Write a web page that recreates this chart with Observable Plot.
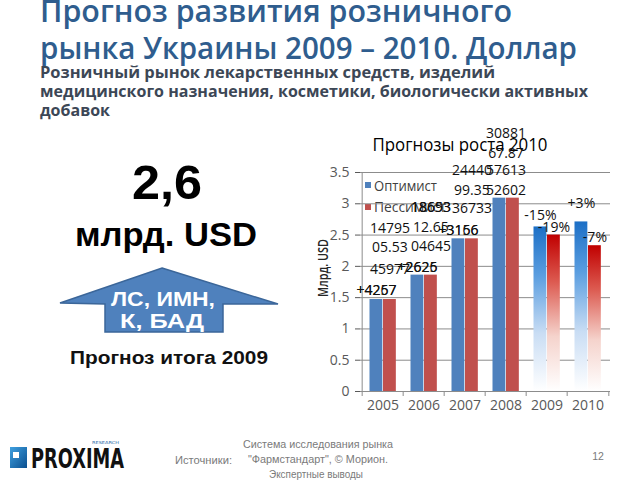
<!DOCTYPE html>
<html><head><meta charset="utf-8">
<script src="https://cdn.jsdelivr.net/npm/d3@7"></script>
<script src="https://cdn.jsdelivr.net/npm/@observablehq/plot@0.6"></script>
<style>
html,body{margin:0;padding:0;background:#fff;}
#slide{position:relative;width:640px;height:480px;overflow:hidden;background:#fff;}
#bg{position:absolute;left:0;top:0;}
#chart{position:absolute;left:300px;top:128px;}
</style></head><body>
<div id="slide">
<svg id="bg" width="640" height="480" xmlns="http://www.w3.org/2000/svg">
  <g font-family="'Open Sans', 'Noto Sans', sans-serif">
    <text x="40" y="22" font-size="31" font-weight="600" fill="#2f5d8e" textLength="472" lengthAdjust="spacingAndGlyphs">Прогноз развития розничного</text>
    <text x="40" y="59" font-size="31" font-weight="600" fill="#2f5d8e" textLength="537" lengthAdjust="spacingAndGlyphs">рынка Украины 2009 – 2010. Доллар</text>
    <text x="40" y="78" font-size="16.5" font-weight="700" fill="#3c4756" textLength="455" lengthAdjust="spacingAndGlyphs">Розничный рынок лекарственных средств, изделий</text>
    <text x="40" y="97" font-size="16.5" font-weight="700" fill="#3c4756" textLength="548" lengthAdjust="spacingAndGlyphs">медицинского назначения, косметики, биологически активных</text>
    <text x="40" y="116" font-size="16.5" font-weight="700" fill="#3c4756" textLength="70" lengthAdjust="spacingAndGlyphs">добавок</text>
  </g>
  <g font-family="'Liberation Sans', Arial, sans-serif" font-weight="700" text-anchor="middle">
    <text x="167" y="199" font-size="48" fill="#000" textLength="70" lengthAdjust="spacingAndGlyphs">2,6</text>
    <text x="166" y="246" font-size="33" fill="#000" textLength="182" lengthAdjust="spacingAndGlyphs">млрд. USD</text>
    <polygon points="162,268 278,304 223,304 223,332 105,332 105,304 60,303" fill="#4f81bd" stroke="#3b6699" stroke-width="1.5"/>
    <text x="163" y="306" font-size="20" fill="#fff" textLength="104" lengthAdjust="spacingAndGlyphs">ЛС, ИМН,</text>
    <text x="162" y="328" font-size="20" fill="#fff" textLength="84" lengthAdjust="spacingAndGlyphs">К, БАД</text>
    <text x="169" y="364" font-size="18" fill="#111" textLength="198" lengthAdjust="spacingAndGlyphs">Прогноз итога 2009</text>
  </g>
  <g font-family="'Open Sans', 'Noto Sans', sans-serif">
    <text x="460" y="151" font-size="19" fill="#000" text-anchor="middle" textLength="175" lengthAdjust="spacingAndGlyphs">Прогнозы роста 2010</text>
    <rect x="365" y="182" width="6" height="6" fill="#4f81bd"/>
    <text x="374" y="191" font-size="14" fill="#404040" textLength="63" lengthAdjust="spacingAndGlyphs">Оптимист</text>
    <rect x="365" y="204" width="6" height="6" fill="#c0504d"/>
    <text x="374" y="212" font-size="14" fill="#404040" textLength="72" lengthAdjust="spacingAndGlyphs">Пессимист</text>
    <text transform="translate(328,268) rotate(-90)" font-size="15" font-weight="600" fill="#262626" text-anchor="middle" textLength="58" lengthAdjust="spacingAndGlyphs">Млрд. USD</text>
  </g>
  <defs>
    <linearGradient id="logoG" x1="0" y1="0" x2="1" y2="1">
      <stop offset="0" stop-color="#3fa0e0"/><stop offset="1" stop-color="#0b4f8f"/>
    </linearGradient>
  </defs>
  <rect x="10" y="447" width="17" height="21" fill="url(#logoG)"/>
  <rect x="13" y="452" width="6" height="6" fill="#fff"/>
  <text x="31" y="468" font-family="'DejaVu Sans Condensed', 'DejaVu Sans', sans-serif" font-weight="700" font-size="27" fill="#111" textLength="93" lengthAdjust="spacingAndGlyphs">PROXIMA</text>
  <text x="92" y="444" font-family="'DejaVu Sans', sans-serif" font-size="4" fill="#2a6aa8" textLength="27" lengthAdjust="spacingAndGlyphs">RESEARCH</text>
  <g font-family="'Liberation Sans', Arial, sans-serif" font-size="10.5" fill="#7a7a7a">
    <text x="175" y="464" textLength="57" lengthAdjust="spacingAndGlyphs">Источники:</text>
    <text x="318" y="448" text-anchor="middle" textLength="150" lengthAdjust="spacingAndGlyphs">Система исследования рынка</text>
    <text x="318" y="463" text-anchor="middle" textLength="140" lengthAdjust="spacingAndGlyphs">"Фармстандарт", © Морион.</text>
    <text x="316" y="478" text-anchor="middle" textLength="94" lengthAdjust="spacingAndGlyphs">Экспертные выводы</text>
    <text x="598" y="460" text-anchor="middle">12</text>
  </g>
</svg>
<div id="chart"></div>
</div>
<script>
// ---- data ----
const years = [2005, 2006, 2007, 2008, 2009, 2010];
const optimist = [1.47, 1.86, 2.44, 3.09, 2.63, 2.71];
const pessimist = [1.47, 1.86, 2.44, 3.09, 2.50, 2.33];
const forecastYears = [2009, 2010];
const yTicks = [0, 0.5, 1, 1.5, 2, 2.5, 3, 3.5];

// data labels as they appear (overlapping, wrapped numbers)
const labelText  = ["14795", "05.53", "45977", "+4257", "+4267",
                    "18693", "18653", "12.65", "04645", "+2626", "+2625",
                    "+3166", "+3156", "36733", "99.35", "24440",
                    "52602", "57613", "67.87", "30881"];
const labelYear  = [2005, 2005, 2005, 2005, 2005,
                    2006, 2006, 2006, 2006, 2006, 2006,
                    2007, 2007, 2007, 2007, 2007,
                    2008, 2008, 2008, 2008];
const labelSide  = [1, 1, 1, -1, -1,
                    1, 1, 1, 1, -1, -1,
                    -1, -1, 1, 1, 1,
                    0, 0, 0, 0];
const labelValue = [2.61, 2.30, 1.95, 1.61, 1.61,
                    2.94, 2.94, 2.62, 2.32, 1.98, 1.98,
                    2.57, 2.57, 2.92, 3.21, 3.53,
                    3.21, 3.53, 3.80, 4.12];

// growth labels for forecast bars
const pctText  = ["-15%", "-19%", "+3%", "-7%"];
const pctYear  = [2009, 2009, 2010, 2010];
const pctSide  = [-1, 1, -1, 1];
const pctValue = [2.81, 2.62, 3.00, 2.46];

// ---- build ----
const W = 330, H = 292, mL = 60, mR = 20, mT = 44, mB = 29;
const bw = (W - mL - mR) / years.length;
const rows = years.map((y, i) => ({year: y, opt: optimist[i], pes: pessimist[i], fc: forecastYears.includes(y)}));
const hist = rows.filter(d => !d.fc), fc = rows.filter(d => d.fc);
const labels = labelText.map((t, i) => ({text: t, year: labelYear[i], side: labelSide[i], v: labelValue[i]}));
const pcts = pctText.map((t, i) => ({text: t, year: pctYear[i], side: pctSide[i], v: pctValue[i]}));
const blueL = 7.5, barW = 13.5;
const sideDx = {"-1": blueL + barW / 2 - bw / 2, "0": 0, "1": blueL + barW * 1.5 - bw / 2};
const font = "'Open Sans', 'Noto Sans', sans-serif";

function textMarks(data) {
  return [-1, 0, 1].map(s => Plot.text(data.filter(d => d.side === s), {
    x: "year", y: "v", text: "text", dx: sideDx[s], fontSize: 14, fill: "#111", fontFamily: font
  }));
}

const chart = Plot.plot({
  width: W, height: H,
  marginLeft: mL, marginRight: mR, marginTop: mT, marginBottom: mB,
  style: {background: "transparent", color: "#595959", fontSize: "14px", fontFamily: font},
  x: {domain: years, padding: 0, tickSize: 0, tickPadding: 9, tickFormat: d => String(d), label: null},
  y: {domain: [0, 3.5], ticks: yTicks, tickFormat: d => String(d), tickSize: 5, tickPadding: 6, label: null},
  marks: [
    Plot.ruleY(yTicks.filter(d => d > 0), {stroke: "#8c8c8c", strokeWidth: 1}),
    Plot.ruleY([0], {stroke: "#8c8c8c"}),
    Plot.ruleX([years[0]], {dx: -bw / 2, stroke: "#8c8c8c"}),
    Plot.ruleX(years, {x: d => d, dx: -bw / 2, y1: 0, y2: 0, insetBottom: -5, stroke: "#8c8c8c"}),
    Plot.ruleX([years[years.length - 1]], {dx: bw / 2, y1: 0, y2: 0, insetBottom: -5, stroke: "#8c8c8c"}),
    Plot.barY(hist, {x: "year", y: "opt", fill: "#4f81bd", insetLeft: blueL, insetRight: bw - blueL - barW}),
    Plot.barY(hist, {x: "year", y: "pes", fill: "#c0504d", insetLeft: blueL + barW, insetRight: bw - blueL - 2 * barW}),
    Plot.barY(fc, {x: "year", y: "opt", fill: "url(#gBlue)", insetLeft: blueL, insetRight: bw - blueL - barW}),
    Plot.barY(fc, {x: "year", y: "pes", fill: "url(#gRed)", insetLeft: blueL + barW, insetRight: bw - blueL - 2 * barW}),
    ...textMarks(labels),
    ...textMarks(pcts)
  ]
});

const s = d3.select(chart);
const defs = s.insert("defs", ":first-child");
function grad(id, stops) {
  const g = defs.append("linearGradient").attr("id", id).attr("x1", 0).attr("y1", 0).attr("x2", 0).attr("y2", 1);
  stops.forEach(([o, c]) => g.append("stop").attr("offset", o).attr("stop-color", c));
}
grad("gBlue", [[0, "#1c6fc6"], [0.3, "#5b9ee0"], [0.65, "#c9ddf4"], [1, "#ffffff"]]);
grad("gRed", [[0, "#c00000"], [0.3, "#dc5a50"], [0.65, "#f5d3cc"], [1, "#ffffff"]]);

document.getElementById("chart").appendChild(chart);
</script>
</body></html>
